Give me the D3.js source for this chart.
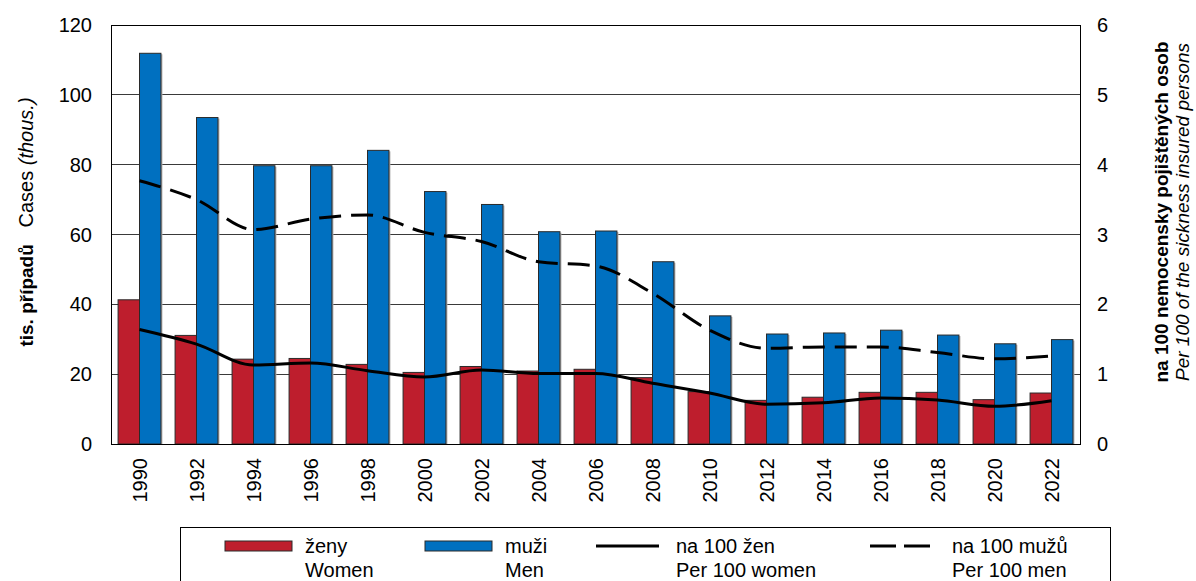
<!DOCTYPE html>
<html>
<head>
<meta charset="utf-8">
<script src="https://cdn.jsdelivr.net/npm/d3@7"></script>
<style>
  body { margin: 0; background: #fff; }
  text { font-family: "Liberation Sans", Arial, sans-serif; fill: #000; }
</style>
</head>
<body>
<div id="root"></div>
<script>
// data
var years = [1990, 1992, 1994, 1996, 1998, 2000, 2002, 2004, 2006, 2008, 2010, 2012, 2014, 2016, 2018, 2020, 2022];
var women = [41.3, 31.1, 24.3, 24.5, 22.8, 20.5, 22.2, 20.9, 21.4, 19.0, 15.0, 12.5, 13.4, 14.8, 14.8, 12.7, 14.6];
var men = [111.9, 93.5, 79.7, 79.7, 84.1, 72.3, 68.6, 60.8, 61.0, 52.2, 36.7, 31.5, 31.8, 32.6, 31.2, 28.7, 29.9];
var per100Women = [1.64, 1.43, 1.13, 1.16, 1.05, 0.96, 1.06, 1.01, 1.01, 0.87, 0.73, 0.57, 0.59, 0.66, 0.63, 0.54, 0.62];
var per100Men = [3.77, 3.50, 3.07, 3.22, 3.28, 3.03, 2.90, 2.61, 2.55, 2.16, 1.63, 1.37, 1.39, 1.39, 1.31, 1.22, 1.26];
var leftTicks = [0, 20, 40, 60, 80, 100, 120];
var rightTicks = [0, 1, 2, 3, 4, 5, 6];

var RED = "#BE1E2D", BLUE = "#0070C0";

var width = 1196, height = 581;
var margin = {top: 25, right: 116, bottom: 137, left: 111};
var x0Left = margin.left, x0Right = width - margin.right;
var yTop = margin.top, yBottom = height - margin.bottom;

var svg = d3.select("#root").append("svg")
    .attr("width", width)
    .attr("height", height);

// scales
var x0 = d3.scaleBand().domain(years).range([x0Left, x0Right]).padding(0);
var x1 = d3.scaleBand().domain(["w", "m"]).range([0, x0.bandwidth()])
    .paddingInner(0).paddingOuter(0.33);
var yL = d3.scaleLinear().domain([0, 120]).range([yBottom, yTop]);
var yR = d3.scaleLinear().domain([0, 6]).range([yBottom, yTop]);

// gridlines
svg.append("g").selectAll("line")
    .data(leftTicks.filter(function(d) { return d > 0 && d < 120; }))
  .enter().append("line")
    .attr("x1", x0Left).attr("x2", x0Right)
    .attr("y1", function(d) { return yL(d); })
    .attr("y2", function(d) { return yL(d); })
    .attr("stroke", "#3a3a3a").attr("stroke-width", 1)
    .attr("shape-rendering", "crispEdges");

// bars
var rows = years.map(function(y, i) { return {year: y, w: women[i], m: men[i]}; });
var groups = svg.append("g").selectAll("g")
    .data(rows)
  .enter().append("g")
    .attr("transform", function(d) { return "translate(" + x0(d.year) + ",0)"; });

// light shadow on the right edge, like the original
groups.append("rect")
    .attr("x", x1("m") + x1.bandwidth())
    .attr("y", function(d) { return yL(d.m) + 1; })
    .attr("width", 1.5)
    .attr("height", function(d) { return yBottom - yL(d.m) - 1; })
    .attr("fill", "#b0b0b0");

groups.append("rect")
    .attr("x", x1("w"))
    .attr("y", function(d) { return yL(d.w); })
    .attr("width", x1.bandwidth())
    .attr("height", function(d) { return yBottom - yL(d.w); })
    .attr("fill", RED).attr("stroke", "#2a2a2a").attr("stroke-width", 1);

groups.append("rect")
    .attr("x", x1("m"))
    .attr("y", function(d) { return yL(d.m); })
    .attr("width", x1.bandwidth())
    .attr("height", function(d) { return yBottom - yL(d.m); })
    .attr("fill", BLUE).attr("stroke", "#2a2a2a").attr("stroke-width", 1);

// lines on the right axis
var cx = function(i) { return x0(years[i]) + x0.bandwidth() / 2; };
var line = d3.line()
    .x(function(d, i) { return cx(i); })
    .y(function(d) { return yR(d); })
    .curve(d3.curveMonotoneX);

svg.append("path")
    .attr("d", line(per100Women))
    .attr("fill", "none").attr("stroke", "#000").attr("stroke-width", 3);

svg.append("path")
    .attr("d", line(per100Men))
    .attr("fill", "none").attr("stroke", "#000").attr("stroke-width", 3)
    .attr("stroke-dasharray", "22,10");

// plot frame
svg.append("rect")
    .attr("x", x0Left).attr("y", yTop)
    .attr("width", x0Right - x0Left).attr("height", yBottom - yTop)
    .attr("fill", "none").attr("stroke", "#000").attr("stroke-width", 1)
    .attr("shape-rendering", "crispEdges");

// axis labels
svg.append("g").selectAll("text")
    .data(leftTicks)
  .enter().append("text")
    .attr("x", 92)
    .attr("y", function(d) { return yL(d); })
    .attr("dy", "0.35em")
    .attr("text-anchor", "end")
    .style("font-size", "20px")
    .text(function(d) { return d; });

svg.append("g").selectAll("text")
    .data(rightTicks)
  .enter().append("text")
    .attr("x", 1097)
    .attr("y", function(d) { return yR(d); })
    .attr("dy", "0.35em")
    .attr("text-anchor", "start")
    .style("font-size", "20px")
    .text(function(d) { return d; });

svg.append("g").selectAll("text")
    .data(years)
  .enter().append("text")
    .attr("transform", function(d) {
      return "translate(" + (x0(d) + x0.bandwidth() / 2) + "," + (yBottom + 14) + ") rotate(-90)";
    })
    .attr("dy", "0.35em")
    .attr("text-anchor", "end")
    .style("font-size", "20px")
    .text(function(d) { return d; });

// axis titles
var lt = svg.append("text")
    .attr("transform", "translate(33,222) rotate(-90)")
    .attr("text-anchor", "middle");
lt.append("tspan").style("font-weight", "bold").style("font-size", "19px").text("tis. případů");
lt.append("tspan").style("font-size", "20px").text("\u00a0\u00a0\u00a0Cases ");
lt.append("tspan").style("font-size", "20px").style("font-style", "italic").text("(thous.)");

svg.append("text")
    .attr("transform", "translate(1168,212) rotate(-90)")
    .attr("text-anchor", "middle")
    .style("font-size", "19px").style("font-weight", "bold")
    .text("na 100 nemocensky pojištěných osob");

svg.append("text")
    .attr("transform", "translate(1189,212) rotate(-90)")
    .attr("text-anchor", "middle")
    .style("font-size", "19px").style("font-style", "italic")
    .text("Per 100 of the sickness insured persons");

// legend
var legend = svg.append("g");
legend.append("rect")
    .attr("x", 180.5).attr("y", 527.5)
    .attr("width", 930).attr("height", 80)
    .attr("fill", "none").attr("stroke", "#000").attr("stroke-width", 1);

var legendItems = [
  {kind: "bar", color: RED, x: 225, l1: "ženy", l2: "Women"},
  {kind: "bar", color: BLUE, x: 425, l1: "muži", l2: "Men"},
  {kind: "line", dash: null, x: 596, l1: "na 100 žen", l2: "Per 100 women"},
  {kind: "line", dash: "26,8", x: 870, l1: "na 100 mužů", l2: "Per 100 men"}
];

legendItems.forEach(function(it) {
  var g = legend.append("g");
  var textX;
  if (it.kind === "bar") {
    g.append("rect")
      .attr("x", it.x).attr("y", 541)
      .attr("width", 67).attr("height", 10)
      .attr("fill", it.color).attr("stroke", "#2a2a2a").attr("stroke-width", 1);
    textX = it.x + 80;
  } else {
    g.append("line")
      .attr("x1", it.x).attr("x2", it.x + 63)
      .attr("y1", 546).attr("y2", 546)
      .attr("stroke", "#000").attr("stroke-width", 3)
      .attr("stroke-dasharray", it.dash);
    textX = it.x + (it.dash ? 82 : 80);
  }
  g.append("text").attr("x", textX).attr("y", 553)
    .style("font-size", "20px").text(it.l1);
  g.append("text").attr("x", textX).attr("y", 577)
    .style("font-size", "20px").text(it.l2);
});
</script>
</body>
</html>
